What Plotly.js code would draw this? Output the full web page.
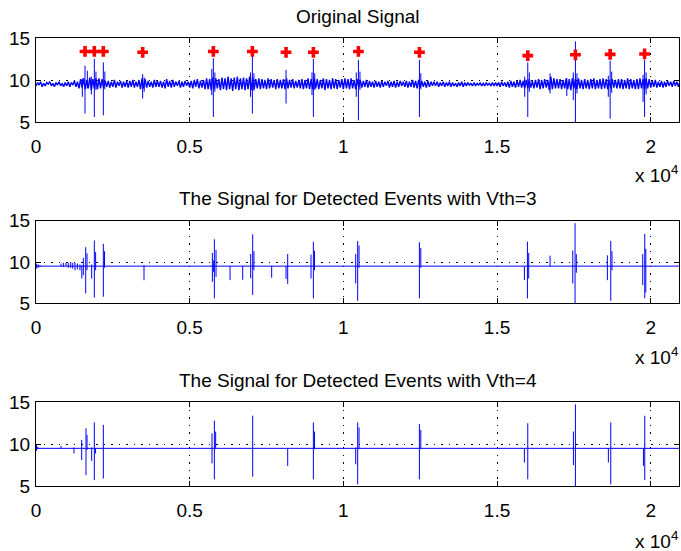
<!DOCTYPE html>
<html>
<head>
<meta charset="utf-8">
<script src="https://cdn.plot.ly/plotly-3.0.1.min.js"></script>
<style>html,body{margin:0;padding:0;background:#fff;}#chart{width:681px;height:551px;}</style>
</head>
<body>
<div id="chart"></div>
<script>
// ---------------- DATA ----------------
const sampleStep = 50;        // original signal shown every 50 samples
const xMax = 20920;
const baseLevel = 9.5;
const xTickVals = [0, 5000, 10000, 15000, 20000];
const xTickText = ["0", "0.5", "1", "1.5", "2"];
const yTickVals = [5, 10, 15];
const titles = ["Original Signal", "The Signal for Detected Events with Vth=3", "The Signal for Detected Events with Vth=4"];

// background noise of the original signal (one value per 50 samples)
const noise = [
9.3,9.7,9.4,9.8,9.2,9.6,9.3,9.7,9.5,9.8,9.3,9.6,9.2,9.7,9.4,9.8,9.3,9.6,9.2,9.7,
9.3,9.8,9.2,9.7,9.4,9.9,9.2,9.8,9.0,10.1,9.1,10.2,8.9,10.0,9.0,10.3,8.8,10.1,9.0,10.2,
8.9,10.2,9.0,10.1,9.1,9.9,9.2,9.9,9.1,9.8,9.2,10.0,9.1,9.8,9.3,9.9,9.1,9.8,9.2,9.9,
9.1,9.9,9.2,10.0,9.1,9.8,9.2,10.0,8.9,10.2,9.0,10.1,9.1,9.9,9.2,9.8,9.1,10.0,9.2,9.9,
9.2,9.9,9.1,9.8,9.0,10.1,9.2,9.9,9.1,10.0,9.2,9.8,9.3,9.9,9.1,9.8,9.2,9.9,9.3,9.8,
9.1,9.9,9.0,10.0,9.2,10.1,9.0,9.9,9.1,10.0,8.9,10.2,8.9,10.1,8.8,10.3,8.9,10.2,9.0,10.1,
8.8,10.3,8.9,10.2,8.8,10.4,8.9,10.2,8.7,10.3,8.9,10.4,8.8,10.2,8.9,10.3,8.8,10.2,8.9,10.4,
8.8,10.3,8.9,10.1,9.0,10.2,8.9,10.1,9.0,10.0,8.9,10.2,9.0,10.1,9.1,10.0,8.9,10.1,9.0,10.0,
9.0,10.1,8.9,10.2,9.0,10.0,9.1,10.1,9.0,9.9,9.1,10.0,9.0,10.1,8.9,10.0,9.0,10.2,8.9,10.1,
8.9,10.2,9.0,10.1,8.9,10.0,9.0,10.2,8.8,10.1,9.0,10.0,8.9,10.2,9.0,10.1,8.9,10.0,9.1,10.1,
8.9,10.2,9.0,10.1,8.9,10.2,9.0,10.0,8.9,10.1,9.1,10.0,9.1,9.9,9.2,10.0,9.1,9.9,9.2,9.8,
9.1,9.9,9.2,9.8,9.1,9.9,9.2,9.8,9.3,9.9,9.1,9.8,9.2,9.9,9.1,9.8,9.2,9.9,9.3,9.8,
9.2,9.9,9.1,9.8,9.2,10.0,9.1,9.9,9.0,10.0,9.1,9.9,9.2,9.8,9.1,9.9,9.2,9.8,9.3,9.8,
9.3,9.8,9.2,9.7,9.3,9.8,9.2,9.7,9.3,9.8,9.2,9.7,9.3,9.6,9.2,9.7,9.3,9.8,9.2,9.7,
9.3,9.7,9.4,9.6,9.3,9.7,9.3,9.6,9.4,9.7,9.3,9.6,9.3,9.7,9.4,9.6,9.3,9.7,9.3,9.7,
9.3,9.7,9.2,9.8,9.3,9.7,9.2,9.8,9.1,9.9,9.2,9.8,9.1,9.9,9.2,10.0,9.1,9.9,9.0,10.0,
9.0,10.1,9.1,9.9,9.0,10.0,9.1,10.1,8.9,10.0,9.0,10.1,9.1,10.0,8.8,10.4,8.9,10.2,9.0,10.1,
9.0,10.1,8.9,10.0,9.0,10.2,8.9,10.1,8.8,10.2,9.0,10.1,8.9,10.2,9.0,10.0,8.9,10.1,9.0,10.0,
8.9,10.1,9.0,10.2,8.9,10.0,9.0,10.1,8.9,10.2,9.0,10.1,8.9,10.0,9.0,10.1,9.1,10.0,9.0,10.1,
9.0,10.1,8.9,10.0,9.0,10.2,8.9,10.1,9.0,10.0,8.9,10.1,8.9,10.2,9.0,10.1,8.8,10.2,9.0,10.1,
9.1,9.9,9.2,10.0,9.1,9.8,9.2,9.9,9.1,9.8,9.2,9.9,9.3,9.8,9.2,9.9,9.3,9.8,9.2,9.8
];

// spikes in the original signal: [sample, low, high]
const origEvents = [
[1507,8.0,10.2],[1594,6.0,11.7],[1670,9.0,11.1],[1800,8.3,10.4],[1898,5.6,12.5],[1950,8.8,11.0],
[2191,5.8,12.1],[2240,8.9,11.0],[3470,7.8,10.7],[3520,8.6,10.3],[5720,8.2,11.3],[5770,5.6,12.6],
[5820,8.6,10.9],[6980,8.0,10.9],[7040,6.0,13.2],[7090,8.7,10.8],[8135,7.2,11.2],[8980,8.2,10.9],
[9025,5.6,12.5],[9070,8.8,10.8],[10420,8.0,10.9],[10490,5.2,12.4],[10540,8.8,11.0],[12475,5.6,12.4],
[12520,8.9,10.8],[15900,8.0,10.4],[16000,5.6,12.1],[16050,8.6,10.9],[16725,8.4,10.8],[17270,8.1,10.2],
[17480,7.6,10.9],[17550,5.0,14.6],[17600,8.4,10.8],[18620,8.0,10.5],[18680,5.4,12.3],[18730,8.5,11.0],
[19750,7.4,10.6],[19800,5.6,12.4],[19850,8.3,10.9]
];

// detected event markers: sample positions and heights
const markX = [1595,1897,2190,3470,5770,7040,8135,9025,10490,12475,16000,17550,18680,19800];
const markY = [13.4,13.4,13.4,13.3,13.4,13.4,13.3,13.3,13.4,13.3,12.9,13.0,13.05,13.1];

// detected events, Vth=3: [sample, low, high]
const vth3Events = [
[20,9.2,9.8],[70,9.3,9.7],[130,9.4,9.6],
[815,9.5,9.8],[890,9.4,9.9],[975,9.5,9.9],[1050,9.3,9.9],[1130,9.3,10.0],[1195,9.2,9.9],
[1270,9.0,9.9],[1345,9.1,9.8],[1430,9.0,9.7],[1490,8.0,9.6],
[1540,8.4,10.5],[1617,6.2,11.8],[1660,9.0,11.05],[1811,8.0,9.7],[1898,5.7,12.6],[1940,9.0,11.2],
[2191,5.8,12.2],[2230,9.3,11.3],[3514,7.8,9.6],
[5738,7.6,11.1],[5780,8.8,10.2],[5803,5.6,12.75],[5857,8.2,11.45],[6313,7.8,9.5],[6725,7.85,9.5],
[6985,8.03,10.97],[7050,6.0,13.35],[7090,9.0,11.3],[7668,8.1,9.5],[8135,7.95,9.5],[8189,7.35,10.97],
[8948,8.0,10.9],[9024,5.6,12.46],[9060,9.0,11.35],[10401,7.4,10.95],[10466,5.3,12.55],[10510,9.3,12.0],
[12474,5.6,12.4],[12520,9.3,11.7],[15890,7.8,9.5],[15988,5.6,12.46],[16030,8.0,11.1],[16725,9.5,10.77],
[17463,7.4,11.4],[17538,5.0,14.7],[17580,8.7,10.95],[18590,7.8,10.8],[18700,5.3,12.55],[18740,9.0,11.3],
[19740,7.2,10.95],[19806,5.6,13.4],[19840,6.3,11.6]
];

// detected events, Vth=4: [sample, low, high]
const vth4Events = [
[15,9.2,9.9],[60,9.4,9.7],[813,9.5,9.8],[1236,8.9,9.6],[1487,8.1,10.5],[1627,6.3,11.9],[1660,9.3,11.1],
[1811,8.0,9.6],[1898,5.7,12.6],[1935,8.9,9.5],[2191,5.9,12.3],[5727,7.7,11.3],[5803,5.8,12.8],
[5845,9.4,11.5],[7050,6.1,13.4],[8189,7.4,9.5],[9024,5.8,12.6],[9060,9.4,11.5],[10401,7.6,9.6],
[10466,5.2,12.6],[10510,9.4,12.0],[12474,5.8,12.4],[12520,9.4,11.7],[15890,7.8,9.5],[16000,5.8,12.5],
[17485,7.5,11.5],[17550,5.0,14.75],[18622,7.8,9.5],[18700,5.2,12.6],[19763,7.4,9.5],[19806,5.7,13.4]
];

// ---------------- BUILD ----------------
const BLUE = '#0000ff';
function segs(events) {
  const x = [], y = [];
  events.forEach(e => { x.push(e[0], e[0], null); y.push(e[1], e[2], null); });
  return {x, y};
}
const noiseX = noise.map((v, i) => i * sampleStep);
const s1 = segs(origEvents), s2 = segs(vth3Events), s3 = segs(vth4Events);

const traces = [
  {x: noiseX, y: noise, type: 'scatter', mode: 'lines', line: {color: BLUE, width: 1.4}, xaxis: 'x', yaxis: 'y', hoverinfo: 'skip'},
  {x: s1.x, y: s1.y, type: 'scatter', mode: 'lines', line: {color: BLUE, width: 1}, connectgaps: false, xaxis: 'x', yaxis: 'y'},
  {x: markX, y: markY, type: 'scatter', mode: 'markers', marker: {symbol: 'cross', size: 9, color: '#ff0000'}, xaxis: 'x', yaxis: 'y'},
  {x: [0, xMax], y: [baseLevel, baseLevel], type: 'scatter', mode: 'lines', line: {color: BLUE, width: 1}, xaxis: 'x2', yaxis: 'y2'},
  {x: s2.x, y: s2.y, type: 'scatter', mode: 'lines', line: {color: BLUE, width: 1}, connectgaps: false, xaxis: 'x2', yaxis: 'y2'},
  {x: [0, xMax], y: [baseLevel, baseLevel], type: 'scatter', mode: 'lines', line: {color: BLUE, width: 1}, xaxis: 'x3', yaxis: 'y3'},
  {x: s3.x, y: s3.y, type: 'scatter', mode: 'lines', line: {color: BLUE, width: 1}, connectgaps: false, xaxis: 'x3', yaxis: 'y3'}
];

const FONT = 'Arial, "Liberation Sans", Helvetica, sans-serif';
const H = 551;
const FS = 19;
function xa(anchor) {
  return {anchor: anchor, domain: [36/681, 679/681], range: [0, xMax], tickvals: xTickVals, ticktext: xTickText,
    showgrid: true, gridcolor: '#000', griddash: '1.5px,6px', gridwidth: 1, zeroline: false,
    showline: true, mirror: 'ticks', linecolor: '#000', linewidth: 1, ticks: 'inside', ticklen: 5, tickcolor: '#000',
    ticklabelstandoff: 7,
    tickfont: {family: FONT, size: FS, color: '#000'}, fixedrange: true};
}
function ya(anchor, top, bottom) {
  return {anchor: anchor, domain: [1 - bottom / H, 1 - top / H], range: [5, 15], tickvals: yTickVals,
    showgrid: true, gridcolor: '#000', griddash: '1.5px,6px', gridwidth: 1, zeroline: false,
    showline: true, mirror: 'ticks', linecolor: '#000', linewidth: 1, ticks: 'inside', ticklen: 5, tickcolor: '#000',
    ticklabelstandoff: 1,
    tickfont: {family: FONT, size: FS, color: '#000'}, fixedrange: true};
}
const titleY = [16, 198.5, 380];
const expY = [174, 356, 540];
const annotations = [];
titles.forEach((t, i) => annotations.push({text: t, x: 357.5/681, y: 1 - titleY[i]/H, xref: 'paper', yref: 'paper',
  xanchor: 'center', yanchor: 'middle', showarrow: false, font: {family: FONT, size: FS, color: '#000'}}));
expY.forEach(py => annotations.push({text: 'x 10<sup>4</sup>', x: 680/681, y: 1 - py/H, xref: 'paper', yref: 'paper',
  xanchor: 'right', yanchor: 'middle', showarrow: false, font: {family: FONT, size: FS, color: '#000'}}));

const layout = {
  width: 681, height: 551, margin: {l: 0, r: 0, t: 0, b: 0}, showlegend: false,
  paper_bgcolor: '#fff', plot_bgcolor: '#fff',
  xaxis: xa('y'), xaxis2: xa('y2'), xaxis3: xa('y3'),
  yaxis: ya('x', 38, 122), yaxis2: ya('x2', 220.7, 303.3), yaxis3: ya('x3', 402.3, 486),
  annotations: annotations
};
Plotly.newPlot('chart', traces, layout, {displayModeBar: false, staticPlot: true});
</script>
</body>
</html>
